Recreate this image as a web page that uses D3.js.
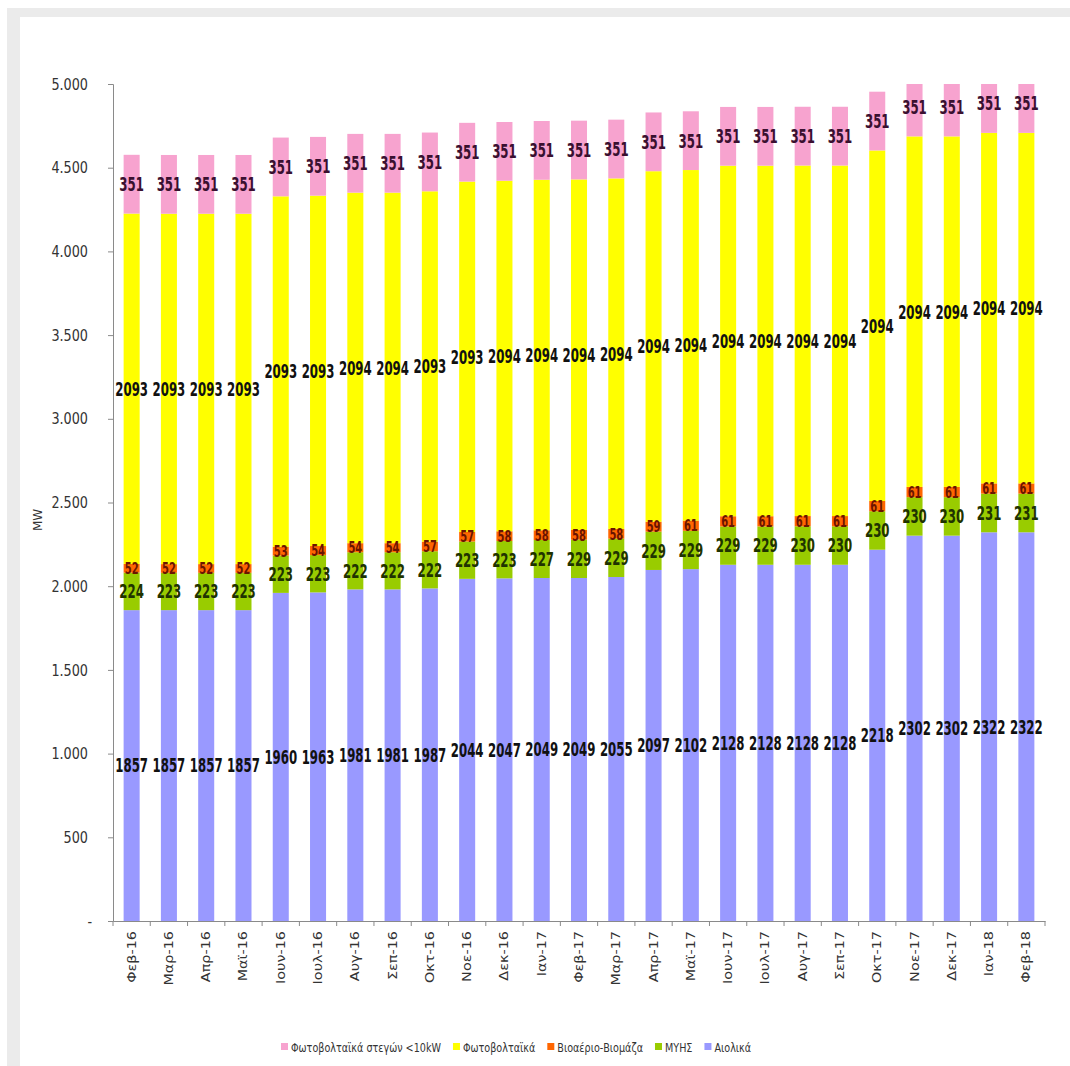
<!DOCTYPE html>
<html>
<head>
<meta charset="utf-8">
<script src="https://cdn.jsdelivr.net/npm/d3@7"></script>
<style>
  html, body { margin: 0; padding: 0; background: #fff; }
  svg { display: block; }
</style>
</head>
<body>
<svg id="chart" width="1070" height="1066"></svg>
<script>
// Monthly installed capacity (MW) by renewable technology
const months = ["Φεβ-16","Μαρ-16","Απρ-16","Μαϊ-16","Ιουν-16","Ιουλ-16","Αυγ-16","Σεπ-16","Οκτ-16","Νοε-16","Δεκ-16","Ιαν-17","Φεβ-17","Μαρ-17","Απρ-17","Μαϊ-17","Ιουν-17","Ιουλ-17","Αυγ-17","Σεπ-17","Οκτ-17","Νοε-17","Δεκ-17","Ιαν-18","Φεβ-18"];

const wind    = [1857,1857,1857,1857,1960,1963,1981,1981,1987,2044,2047,2049,2049,2055,2097,2102,2128,2128,2128,2128,2218,2302,2302,2322,2322];
const smallHydro = [224,223,223,223,223,223,222,222,222,223,223,227,229,229,229,229,229,229,230,230,230,230,230,231,231];
const biogas  = [52,52,52,52,53,54,54,54,57,57,58,58,58,58,59,61,61,61,61,61,61,61,61,61,61];
const pv      = [2093,2093,2093,2093,2093,2093,2094,2094,2093,2093,2094,2094,2094,2094,2094,2094,2094,2094,2094,2094,2094,2094,2094,2094,2094];
const pvRoof  = [351,351,351,351,351,351,351,351,351,351,351,351,351,351,351,351,351,351,351,351,351,351,351,351,351];

const yTicks = [0,500,1000,1500,2000,2500,3000,3500,4000,4500,5000];

// stacking order, bottom to top
const seriesKeys = ["wind","smallHydro","biogas","pv","pvRoof"];
const seriesNames = {
  wind: "Αιολικά",
  smallHydro: "ΜΥΗΣ",
  biogas: "Βιοαέριο-Βιομάζα",
  pv: "Φωτοβολταϊκά",
  pvRoof: "Φωτοβολταϊκά στεγών <10kW"
};
const fills = {
  wind: "#9999ff",
  smallHydro: "#99cc00",
  biogas: "#ff6600",
  pv: "#ffff00",
  pvRoof: "#f7a3cf"
};
const labelColors = {
  wind: "#111111",
  smallHydro: "#1f3300",
  biogas: "#6b1400",
  pv: "#111111",
  pvRoof: "#3a1030"
};
const legendOrder = ["pvRoof","pv","biogas","smallHydro","wind"];

const rows = months.map((m, i) => ({
  month: m, wind: wind[i], smallHydro: smallHydro[i], biogas: biogas[i], pv: pv[i], pvRoof: pvRoof[i]
}));

const FONT = "'DejaVu Sans',Verdana,sans-serif";
const svg = d3.select("#chart");

// page frame
svg.append("rect").attr("x", 7).attr("y", 8).attr("width", 1063).attr("height", 1058).attr("fill", "#ebebeb");
svg.append("rect").attr("x", 20).attr("y", 17).attr("width", 1050).attr("height", 1049).attr("fill", "#ffffff");

const margin = { left: 113, right: 1045, top: 84, bottom: 921 };

const x = d3.scaleBand().domain(months).range([margin.left, margin.right]).paddingInner(0.57).paddingOuter(0.285);
const xTickScale = d3.scaleBand().domain(months).range([margin.left, margin.right]);
const y = d3.scaleLinear().domain([0, 5000]).range([margin.bottom, margin.top]);

const stacked = d3.stack().keys(seriesKeys)(rows);

svg.append("clipPath").attr("id", "plotClip")
  .append("rect").attr("x", margin.left).attr("y", margin.top)
  .attr("width", margin.right - margin.left).attr("height", margin.bottom - margin.top);

const gBars = svg.append("g").attr("clip-path", "url(#plotClip)");
stacked.forEach(layer => {
  gBars.selectAll(null).data(layer).enter().append("rect")
    .attr("x", d => x(d.data.month))
    .attr("width", x.bandwidth())
    .attr("y", d => y(d[1]))
    .attr("height", d => y(d[0]) - y(d[1]))
    .attr("fill", fills[layer.key]);
});

// value labels centred on each segment, horizontally condensed
const gLabels = svg.append("g");
stacked.forEach(layer => {
  gLabels.selectAll(null).data(layer).enter().append("text")
    .attr("transform", d => `translate(${x(d.data.month) + x.bandwidth() / 2},${y((d[0] + d[1]) / 2)}) scale(0.62,1)`)
    .attr("dy", "0.36em")
    .attr("text-anchor", "middle")
    .attr("font-family", FONT)
    .attr("font-size", layer.key === "biogas" ? 16 : 19)
    .attr("font-weight", "bold")
    .attr("fill", labelColors[layer.key])
    .text(d => d[1] - d[0]);
});

// axes
const locale = d3.formatLocale({ decimal: ",", thousands: ".", grouping: [3], currency: ["", "€"] });
const fmt = locale.format(",d");

const yAxis = d3.axisLeft(y).tickValues(yTicks).tickSize(5).tickFormat("");
const gy = svg.append("g").attr("transform", `translate(${margin.left},0)`).call(yAxis);
gy.select(".domain").attr("stroke", "#8a8a8a");
gy.selectAll(".tick line").attr("stroke", "#8a8a8a");
svg.append("g").selectAll("text").data(yTicks).enter().append("text")
  .attr("transform", d => `translate(${d === 0 ? 92 : 88},${y(d)}) scale(0.8,1)`)
  .attr("dy", "0.35em")
  .attr("text-anchor", "end")
  .attr("font-family", FONT)
  .attr("font-size", 16)
  .attr("fill", "#333")
  .text(d => d === 0 ? "-" : fmt(d));

const xAxis = d3.axisBottom(xTickScale).tickSize(0).tickFormat("");
const gx = svg.append("g").attr("transform", `translate(0,${margin.bottom})`).call(xAxis);
gx.select(".domain").attr("stroke", "#8a8a8a");
// tick marks between categories
gx.selectAll(null).data(d3.range(months.length + 1)).enter().append("line")
  .attr("x1", i => margin.left + i * xTickScale.step())
  .attr("x2", i => margin.left + i * xTickScale.step())
  .attr("y1", 0).attr("y2", 5).attr("stroke", "#8a8a8a");

// rotated month labels, stretched along their length
svg.append("g").selectAll("text").data(months).enter().append("text")
  .attr("transform", d => `translate(${xTickScale(d) + xTickScale.bandwidth() / 2 + 4},${margin.bottom + 10}) rotate(-90) scale(1.2,1)`)
  .attr("text-anchor", "end")
  .attr("font-family", FONT)
  .attr("font-size", 12)
  .attr("fill", "#333")
  .text(d => d);

// y-axis title
svg.append("text")
  .attr("transform", "translate(42,520) rotate(-90)")
  .attr("text-anchor", "middle")
  .attr("font-family", FONT)
  .attr("font-size", 12).attr("fill", "#333")
  .text("MW");

// legend, condensed text
const legend = svg.append("g").attr("transform", "translate(0,1047)");
const sx = 0.74;
let lx = 281;
legendOrder.forEach(k => {
  legend.append("rect").attr("x", lx).attr("y", -4).attr("width", 7).attr("height", 7).attr("fill", fills[k]);
  const t = legend.append("text")
    .attr("transform", `translate(${lx + 10},0) scale(${sx},1)`)
    .attr("dy", "0.35em")
    .attr("font-family", FONT).attr("font-size", 13).attr("fill", "#333")
    .text(seriesNames[k]);
  lx += 10 + t.node().getComputedTextLength() * sx + 12;
});
</script>
</body>
</html>
